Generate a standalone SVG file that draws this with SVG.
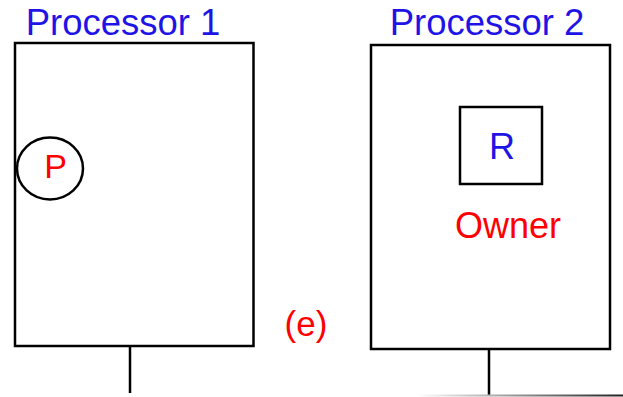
<svg xmlns="http://www.w3.org/2000/svg" width="623" height="397" viewBox="0 0 623 397">
<defs>
<linearGradient id="bus" x1="0" y1="0" x2="1" y2="0">
<stop offset="0" stop-color="#ffffff"/>
<stop offset="1" stop-color="#222222"/>
</linearGradient>
</defs>
<style>
.box{fill:#ffffff;stroke:#000000;stroke-width:2.5}
.line{stroke:#000000;stroke-width:2.5;fill:none}
.blue{fill:#1f14e6;font-family:"Liberation Sans",Arial,sans-serif}
.red{fill:#ff0000;font-family:"Liberation Sans",Arial,sans-serif}
</style>
<rect width="623" height="397" fill="#ffffff"/>
<g id="connectors">
<line class="line" x1="130" y1="347" x2="130" y2="393"/>
<line class="line" x1="489" y1="350" x2="489" y2="395"/>
<rect x="417" y="394.5" width="206" height="2" fill="url(#bus)"/>
</g>
<g id="processor1">
<rect class="box" x="15" y="43" width="238.5" height="303"/>
<text class="blue" x="123" y="35" font-size="36.5" text-anchor="middle">Processor 1</text>
</g>
<g id="process-p">
<ellipse cx="50" cy="168.5" rx="33" ry="31" fill="#ffffff" stroke="#000000" stroke-width="2.5"/>
<text class="red" x="55.5" y="177.5" font-size="34" text-anchor="middle">P</text>
</g>
<g id="processor2">
<rect class="box" x="371" y="45" width="239" height="304"/>
<text class="blue" x="487" y="35" font-size="36.5" text-anchor="middle">Processor 2</text>
</g>
<g id="resource-r">
<rect class="box" x="460" y="107" width="82" height="77"/>
<text class="blue" x="502" y="159" font-size="36" text-anchor="middle">R</text>
</g>
<g id="owner-label">
<text class="red" x="508" y="238" font-size="36" text-anchor="middle">Owner</text>
</g>
<g id="label-e">
<text class="red" x="306" y="336" font-size="35" text-anchor="middle">(e)</text>
</g>
</svg>
